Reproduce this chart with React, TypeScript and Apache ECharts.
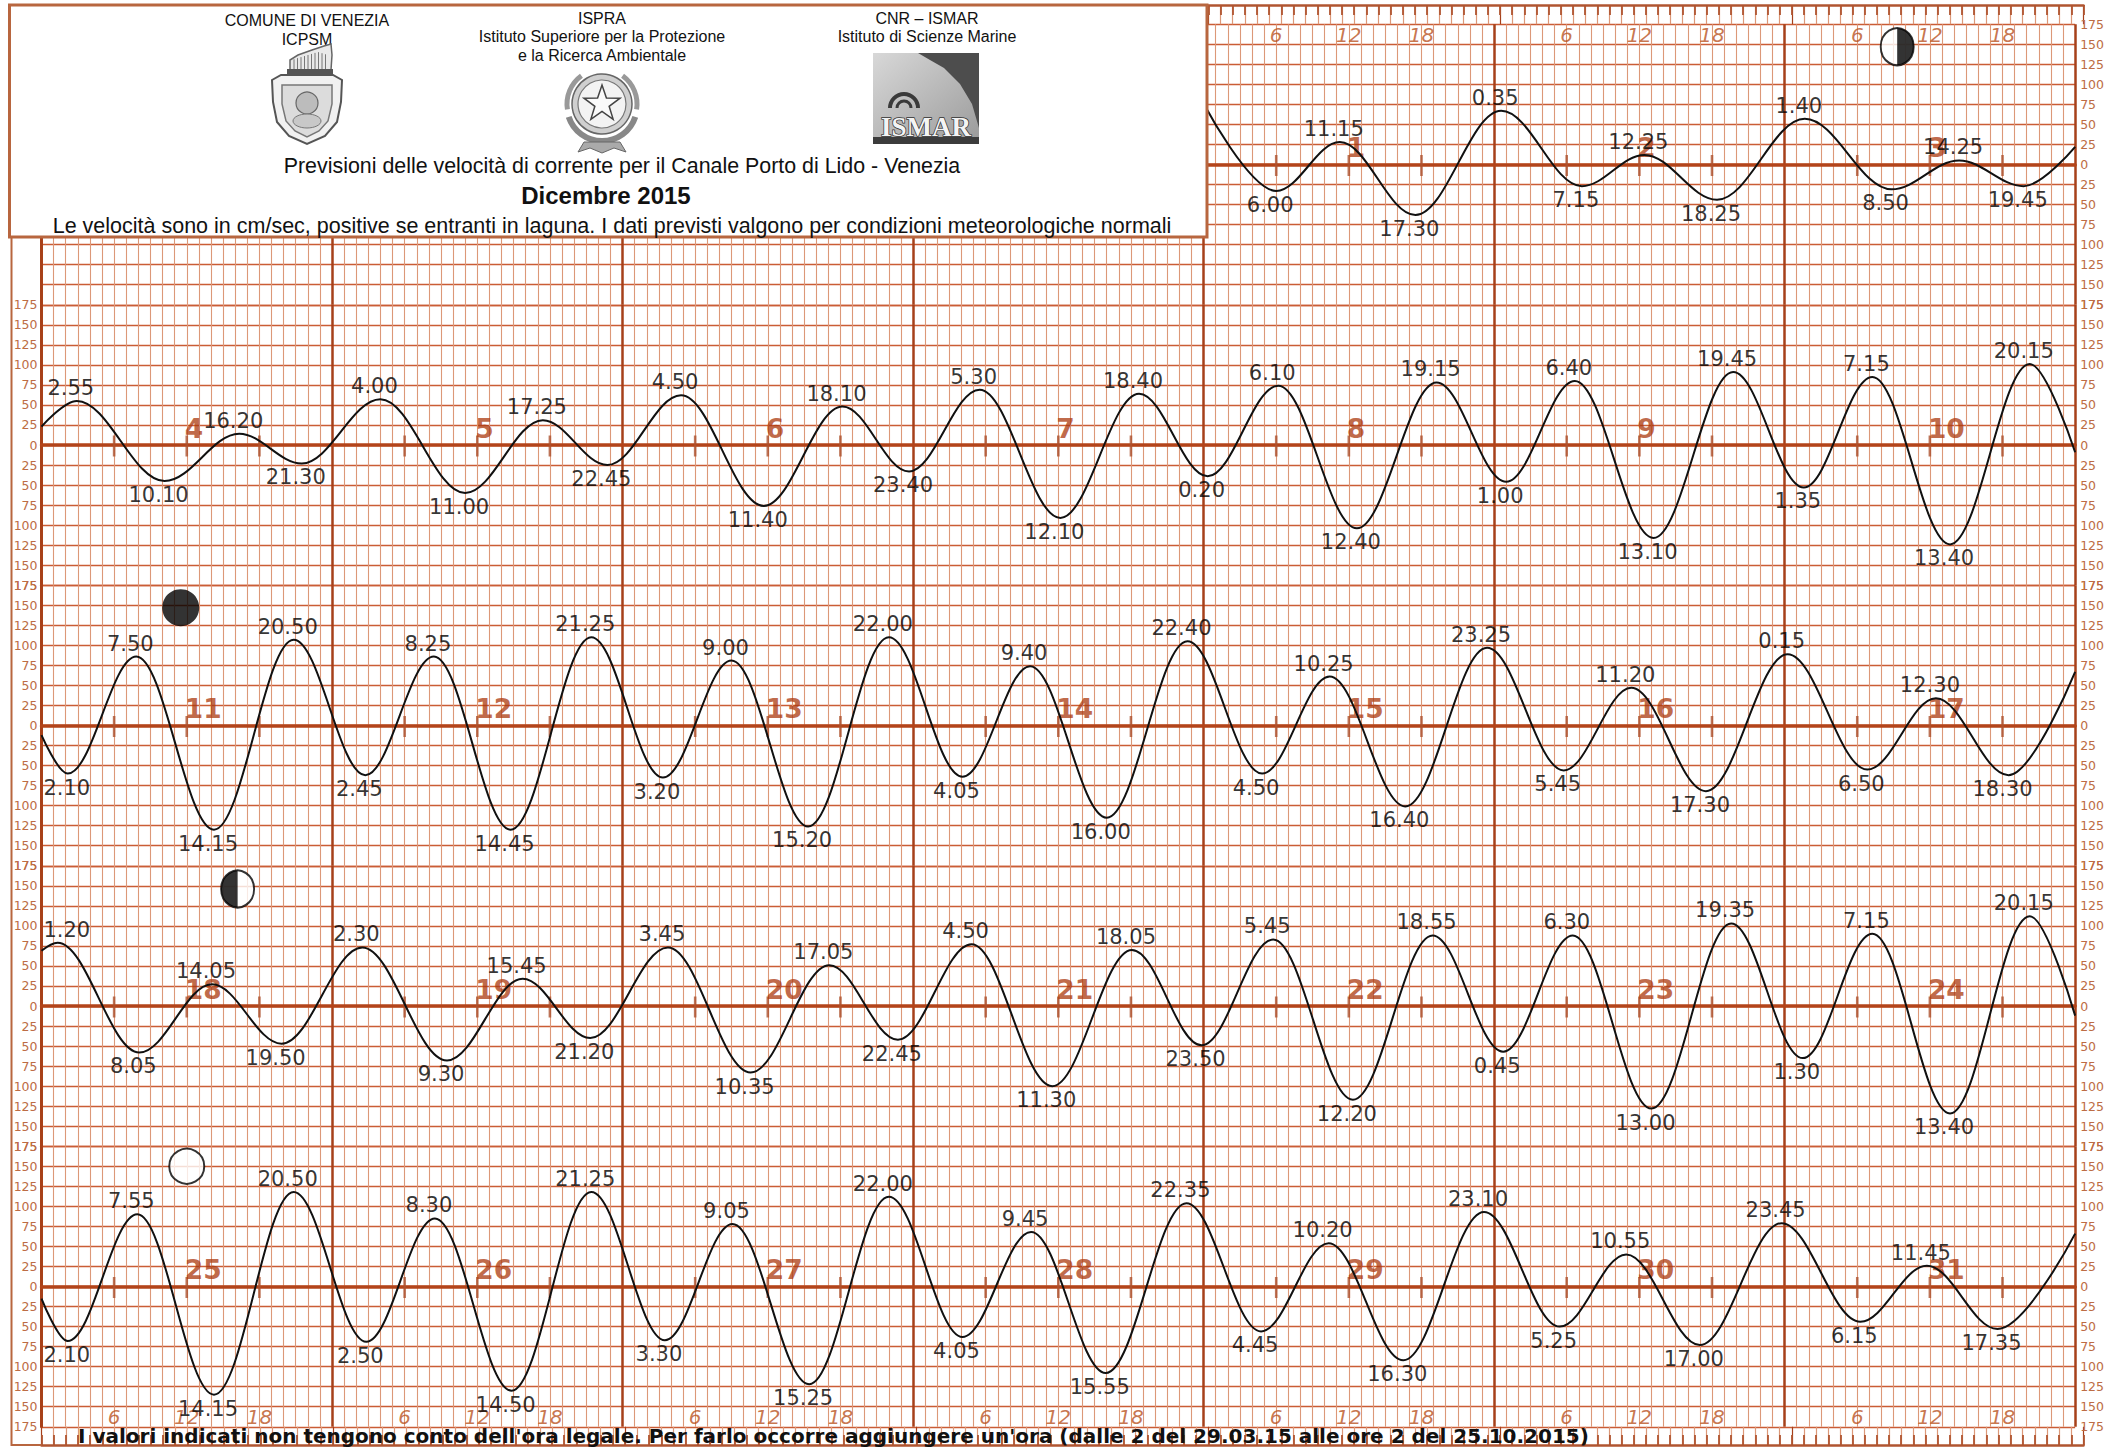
import React, { useEffect, useRef } from 'react';
import * as echarts from 'echarts';

// ---------------- data ----------------
// Each row of the sheet covers 7 day-columns; the first row only shows days 1-3 (last 3 columns).
const rowStartDays = [-3, 4, 11, 18, 25]; // day shown in column 0 of each row
const rowFirstDays = [1, 4, 11, 18, 25];
const rowLastDays = [3, 10, 17, 24, 31];
const rowStartValues = [76, 23, -12, 69, -15]; // speed at 0:00 of first day of the row (cm/s)
const rowEndValues = [22, -9, 67, -12, 66]; // speed at 24:00 of last day of the row (cm/s)
const hourMarks = [6, 12, 18];

type Ext = [number, string, number]; // [day, time "H.MM", speed cm/s]

const extremaDays1to3: Ext[] = [
  [1, '6.00', -33], [1, '11.15', 28], [1, '17.30', -63],
  [2, '0.35', 67], [2, '7.15', -27], [2, '12.25', 12], [2, '18.25', -44],
  [3, '1.40', 57], [3, '8.50', -31], [3, '14.25', 5], [3, '19.45', -27],
];
const extremaDays4to10: Ext[] = [
  [4, '2.55', 55], [4, '10.10', -45], [4, '16.20', 14], [4, '21.30', -23],
  [5, '4.00', 57], [5, '11.00', -60], [5, '17.25', 31], [5, '22.45', -25],
  [6, '4.50', 62], [6, '11.40', -76], [6, '18.10', 48], [6, '23.40', -33],
  [7, '5.30', 69], [7, '12.10', -91], [7, '18.40', 64],
  [8, '0.20', -39], [8, '6.10', 74], [8, '12.40', -104], [8, '19.15', 78],
  [9, '1.00', -46], [9, '6.40', 80], [9, '13.10', -116], [9, '19.45', 91],
  [10, '1.35', -53], [10, '7.15', 85], [10, '13.40', -124], [10, '20.15', 101],
];
const extremaDays11to17: Ext[] = [
  [11, '2.10', -60], [11, '7.50', 86], [11, '14.15', -130], [11, '20.50', 107],
  [12, '2.45', -62], [12, '8.25', 86], [12, '14.45', -130], [12, '21.25', 110],
  [13, '3.20', -65], [13, '9.00', 81], [13, '15.20', -126], [13, '22.00', 110],
  [14, '4.05', -64], [14, '9.40', 74], [14, '16.00', -115], [14, '22.40', 105],
  [15, '4.50', -60], [15, '10.25', 61], [15, '16.40', -101], [15, '23.25', 97],
  [16, '5.45', -56], [16, '11.20', 47], [16, '17.30', -82],
  [17, '0.15', 89], [17, '6.50', -55], [17, '12.30', 34], [17, '18.30', -62],
];
const extremaDays18to24: Ext[] = [
  [18, '1.20', 79], [18, '8.05', -58], [18, '14.05', 27], [18, '19.50', -47],
  [19, '2.30', 73], [19, '9.30', -68], [19, '15.45', 34], [19, '21.20', -40],
  [20, '3.45', 73], [20, '10.35', -83], [20, '17.05', 51], [20, '22.45', -42],
  [21, '4.50', 77], [21, '11.30', -100], [21, '18.05', 70], [21, '23.50', -49],
  [22, '5.45', 83], [22, '12.20', -117], [22, '18.55', 88],
  [23, '0.45', -57], [23, '6.30', 88], [23, '13.00', -128], [23, '19.35', 103],
  [24, '1.30', -65], [24, '7.15', 90], [24, '13.40', -134], [24, '20.15', 112],
];
const extremaDays25to31: Ext[] = [
  [25, '2.10', -68], [25, '7.55', 90], [25, '14.15', -135], [25, '20.50', 118],
  [26, '2.50', -69], [26, '8.30', 85], [26, '14.50', -130], [26, '21.25', 118],
  [27, '3.30', -67], [27, '9.05', 78], [27, '15.25', -122], [27, '22.00', 112],
  [28, '4.05', -63], [28, '9.45', 68], [28, '15.55', -108], [28, '22.35', 104],
  [29, '4.45', -56], [29, '10.20', 54], [29, '16.30', -92], [29, '23.10', 93],
  [30, '5.25', -50], [30, '10.55', 40], [30, '17.00', -73], [30, '23.45', 79],
  [31, '6.15', -44], [31, '11.45', 26], [31, '17.35', -53],
];
const rowExtrema = [extremaDays1to3, extremaDays4to10, extremaDays11to17, extremaDays18to24, extremaDays25to31];

// moon phases: day, hour, level (cm/s scale of that row), phase
const moonDays = [3, 11, 18, 25];
const moonHours = [9.3, 11.5, 16.2, 12.0];
const moonLevels = [147, 147, 146, 150];
const moonPhases = ['lastQuarter', 'new', 'firstQuarter', 'full'];

const topHourLevel = 162;
const bottomHourLevel = -163;

// ---------------- layout / style ----------------
const FONT = '"Liberation Sans", Arial, Helvetica, sans-serif';
const DEJAVU = '"DejaVu Sans", Verdana, sans-serif';
const PLOT_LEFT = 41.5;
const PLOT_WIDTH = 2042;
const HOUR_PX = PLOT_WIDTH / 168;
const ROW_ZERO0 = 164.5;
const ROW_STEP = 280.5;
const ROW_HEIGHT = 280.5;
const LABEL_SIZE = 21;

const C = {
  hour: '#dc9878',
  level: '#ca5c35',
  day: '#a6401a',
  zero: '#b3441a',
  tick: '#ad5230',
  axisLabel: '#bd6c44',
  dayNum: 'rgba(172, 58, 16, 0.95)',
  hourLabel: '#b9531f',
  ruler: '#b05530',
  frame: '#b8663f',
};

function parseTime(s: string): number {
  const [h, m] = s.split('.');
  return Number(h) + Number(m) / 60;
}
function rowOfDay(d: number): number {
  return d <= 3 ? 0 : Math.floor((d - 4) / 7) + 1;
}
// approximate text width in DejaVu Sans (digits 0.636em, period 0.318em)
function labelWidth(t: string): number {
  let w = 0;
  for (const ch of t) w += ch === '.' ? 0.318 : 0.636;
  return w * LABEL_SIZE;
}

function buildOption() {
  const grids: any[] = [];
  const xAxes: any[] = [];
  const yAxes: any[] = [];
  const series: any[] = [];

  for (let r = 0; r < 5; r++) {
    const zero = ROW_ZERO0 + r * ROW_STEP;
    grids.push({ left: PLOT_LEFT, top: zero - ROW_HEIGHT / 2, width: PLOT_WIDTH, height: ROW_HEIGHT });
    xAxes.push({
      gridIndex: r, type: 'value', min: 0, max: 168, interval: 24, z: 1,
      axisLine: { show: true, onZero: true, lineStyle: { color: C.zero, width: 3.5 } },
      axisTick: { show: false }, axisLabel: { show: false },
      splitLine: { show: true, lineStyle: { color: C.day, width: 2.5 } },
      minorTick: { show: false, splitNumber: 24 },
      minorSplitLine: { show: true, lineStyle: { color: C.hour, width: 1.1 } },
    });
    const labelCommon = {
      formatter: (v: number) => String(Math.abs(v)),
      color: C.axisLabel, fontSize: 12.5, fontFamily: DEJAVU,
    };
    yAxes.push({
      gridIndex: r, type: 'value', min: -175, max: 175, interval: 25, position: 'left', z: 0,
      axisLine: { show: true, onZero: false, lineStyle: { color: C.zero, width: 3 } },
      axisTick: { show: false },
      axisLabel: { show: r > 0, margin: 4, ...labelCommon },
      splitLine: { show: true, lineStyle: { color: C.level, width: 1.3 } },
    });
    yAxes.push({
      gridIndex: r, type: 'value', min: -175, max: 175, interval: 25, position: 'right', z: 0,
      axisLine: { show: false }, axisTick: { show: false },
      axisLabel: { show: true, margin: 5, ...labelCommon },
      splitLine: { show: false },
    });

    const start = rowStartDays[r];
    const exts = rowExtrema[r];
    const pts = exts.map(([d, t, v]) => [(d - start) * 24 + parseTime(t), v]);
    const startX = (rowFirstDays[r] - start) * 24;
    const endX = (rowLastDays[r] + 1 - start) * 24;

    // hour ticks on the zero line
    const tickData: number[][] = [];
    const dayLabelData: any[] = [];
    for (let d = rowFirstDays[r]; d <= rowLastDays[r]; d++) {
      hourMarks.forEach((h) => tickData.push([(d - start) * 24 + h, 0]));
      dayLabelData.push({ name: String(d), value: [(d - start) * 24 + 12, 0] });
    }
    series.push({
      type: 'scatter', xAxisIndex: r, yAxisIndex: r * 2, silent: true, z: 3,
      symbol: 'rect', symbolSize: [2.6, 21], symbolOffset: [0, 1],
      itemStyle: { color: C.tick }, data: tickData,
    });
    series.push({
      type: 'scatter', xAxisIndex: r, yAxisIndex: r * 2, silent: true, z: 3,
      symbolSize: 1, itemStyle: { color: 'rgba(0,0,0,0)' },
      label: {
        show: true, position: 'top', distance: 3, align: 'left', offset: [-2, 0],
        formatter: (p: any) => p.name, color: C.dayNum, fontSize: 26.5, fontWeight: 'bold', fontFamily: DEJAVU,
      },
      data: dayLabelData,
    });
    series.push({
      type: 'line', xAxisIndex: r, yAxisIndex: r * 2, silent: true, z: 5,
      smooth: 0.36, smoothMonotone: 'x', symbol: 'none',
      lineStyle: { color: '#111', width: 2 },
      data: [[startX, rowStartValues[r]], ...pts, [endX, rowEndValues[r]]],
    });
    series.push({
      type: 'scatter', xAxisIndex: r, yAxisIndex: r * 2, silent: true, z: 6,
      symbolSize: 1, itemStyle: { color: 'rgba(0,0,0,0)' },
      label: {
        show: true, formatter: (p: any) => p.name,
        color: '#000', fontSize: LABEL_SIZE, fontFamily: DEJAVU,
      },
      data: exts.map(([d, t, v], i) => {
        // keep the label right of the left axis (as on the printed sheet)
        const px = PLOT_LEFT + pts[i][0] * HOUR_PX;
        const half = labelWidth(t) / 2;
        const dx = Math.max(-6, PLOT_LEFT + 2 + half - px);
        return {
          name: t, value: pts[i],
          label: v >= 0
            ? { position: 'top', distance: 2, offset: [dx, 0] }
            : { position: 'bottom', distance: 3, offset: [dx, 0] },
        };
      }),
    });
  }

  // hour labels (top of first row, bottom of last row)
  const hourLabelStyle = {
    show: true, position: 'inside', formatter: (p: any) => p.name,
    color: C.hourLabel, fontSize: 20, fontStyle: 'italic', fontFamily: DEJAVU,
  };
  const topHours: any[] = [];
  for (let d = rowFirstDays[0]; d <= rowLastDays[0]; d++)
    hourMarks.forEach((h) => topHours.push({ name: String(h), value: [(d - rowStartDays[0]) * 24 + h, topHourLevel] }));
  const bottomHours: any[] = [];
  for (let d = rowFirstDays[4]; d <= rowLastDays[4]; d++)
    hourMarks.forEach((h) => bottomHours.push({ name: String(h), value: [(d - rowStartDays[4]) * 24 + h, bottomHourLevel] }));
  series.push({ type: 'scatter', xAxisIndex: 0, yAxisIndex: 0, silent: true, z: 4, symbolSize: 1,
    itemStyle: { color: 'rgba(0,0,0,0)' }, label: hourLabelStyle, data: topHours });
  series.push({ type: 'scatter', xAxisIndex: 4, yAxisIndex: 8, silent: true, z: 4, symbolSize: 1,
    itemStyle: { color: 'rgba(0,0,0,0)' }, label: hourLabelStyle, data: bottomHours });

  // moons
  moonDays.forEach((d, i) => {
    const r = rowOfDay(d);
    const pos = [(d - rowStartDays[r]) * 24 + moonHours[i], moonLevels[i]];
    const phase = moonPhases[i];
    const base = { type: 'scatter', xAxisIndex: r, yAxisIndex: r * 2, silent: true, z: 7 };
    if (phase === 'new') {
      series.push({ ...base, symbol: 'circle', symbolSize: 37, itemStyle: { color: '#000' }, data: [pos] });
    } else if (phase === 'full') {
      series.push({ ...base, symbol: 'circle', symbolSize: 35,
        itemStyle: { color: '#fff', borderColor: '#000', borderWidth: 2 }, data: [pos] });
    } else {
      series.push({ ...base, symbol: 'circle', symbolSize: [33, 37],
        itemStyle: { color: '#fff', borderColor: '#000', borderWidth: 2 }, data: [pos] });
      const right = phase === 'lastQuarter';
      series.push({ ...base, z: 8,
        symbol: right ? 'path://M0,0 A10,10 0 0 1 0,20 Z' : 'path://M10,0 A10,10 0 0 0 10,20 Z',
        symbolSize: [16.5, 37], symbolOffset: [right ? 8.25 : -8.25, 0],
        itemStyle: { color: '#000' }, data: [pos] });
    }
  });

  // rulers (top strip and bottom strip)
  const rulerAxis = (gi: number, position: string) => ({
    gridIndex: gi, type: 'value', min: 0, max: 168, interval: 1, position,
    axisLine: { show: true, onZero: false, lineStyle: { color: C.ruler, width: 2.5 } },
    axisTick: { show: true, inside: true, length: 10, lineStyle: { color: C.ruler, width: 1.8 } },
    axisLabel: { show: false },
    splitLine: { show: true, lineStyle: { color: [C.day].concat(Array(23).fill(C.hour)), width: 1.2 } },
  });
  grids.push({ left: PLOT_LEFT, top: 5, width: PLOT_WIDTH, height: ROW_ZERO0 - ROW_HEIGHT / 2 - 5 });
  xAxes.push(rulerAxis(5, 'top'));
  yAxes.push({ gridIndex: 5, type: 'value', min: 0, max: 1, show: false });
  const lastBottom = ROW_ZERO0 + 4 * ROW_STEP + ROW_HEIGHT / 2;
  grids.push({ left: PLOT_LEFT, top: lastBottom, width: PLOT_WIDTH, height: 1445 - lastBottom });
  xAxes.push(rulerAxis(6, 'bottom'));
  yAxes.push({ gridIndex: 6, type: 'value', min: 0, max: 1, show: false });

  // ---------------- header graphics ----------------
  const txt = (text: string, x: number, y: number, size: number, extra: any = {}) => ({
    type: 'text', z: 110, silent: true,
    style: {
      text, x, y, fill: '#111', fontSize: size, fontFamily: FONT,
      textAlign: 'center', align: 'center', textVerticalAlign: 'middle', verticalAlign: 'middle', ...extra,
    },
  });
  const star: number[][] = [];
  for (let i = 0; i < 10; i++) {
    const a = -Math.PI / 2 + (i * Math.PI) / 5;
    const rr = i % 2 === 0 ? 19 : 7.5;
    star.push([602 + rr * Math.cos(a), 104 + rr * Math.sin(a)]);
  }
  const hatStripes: any[] = [];
  for (let x = 294; x <= 328; x += 3.5)
    hatStripes.push({ type: 'line', z: 112, shape: { x1: x, y1: 70, x2: x, y2: 52 + Math.abs(x - 318) * 0.3 },
      style: { stroke: '#777', lineWidth: 1 } });

  const graphic: any[] = [
    { type: 'rect', z: 100, silent: true, shape: { x: 9.5, y: 5, width: 1197.5, height: 232 },
      style: { fill: '#fff', stroke: C.frame, lineWidth: 3 } },
    { type: 'polyline', z: 100, silent: true, shape: { points: [[11.5, 237], [11.5, 1445], [41.5, 1445]] },
      style: { stroke: C.frame, lineWidth: 2, fill: null } },
    txt('COMUNE DI VENEZIA', 307, 20, 16),
    txt('ICPSM', 307, 39, 16),
    txt('ISPRA', 602, 18, 16),
    txt('Istituto Superiore per la Protezione', 602, 36, 16),
    txt('e la Ricerca Ambientale', 602, 55, 16),
    txt('CNR – ISMAR', 927, 18, 16),
    txt('Istituto di Scienze Marine', 927, 36, 16),
    txt('Previsioni delle velocità di corrente per il Canale Porto di Lido - Venezia', 622, 166, 21.4),
    txt('Dicembre 2015', 606, 195, 24, { fontWeight: 'bold' }),
    txt('Le velocità sono in cm/sec, positive se entranti in laguna. I dati previsti valgono per condizioni meteorologiche normali', 612, 226, 21.5),
    // ICPSM shield
    { type: 'polygon', z: 111, shape: { points: [[290, 70], [290, 60], [298, 55], [312, 50], [324, 46], [331, 44], [332, 55], [331, 70]] },
      style: { fill: '#e9e9e9', stroke: '#666', lineWidth: 1.5 } },
    ...hatStripes,
    { type: 'rect', z: 112, shape: { x: 287, y: 69, width: 46, height: 5 }, style: { fill: '#555' } },
    { type: 'polygon', z: 111, shape: { points: [[272, 80], [281, 75], [333, 75], [342, 80], [341, 102], [337, 122], [325, 136], [307, 144], [289, 136], [277, 122], [273, 102]] },
      style: { fill: '#f1f1f1', stroke: '#555', lineWidth: 2 } },
    { type: 'polygon', z: 112, shape: { points: [[282, 85], [332, 85], [332, 104], [328, 121], [319, 131], [307, 137], [295, 131], [286, 121], [282, 104]] },
      style: { fill: '#dcdcdc', stroke: '#777', lineWidth: 1.5 } },
    { type: 'circle', z: 113, shape: { cx: 307, cy: 103, r: 11 }, style: { fill: '#bcbcbc', stroke: '#666', lineWidth: 1.2 } },
    { type: 'ellipse', z: 113, shape: { cx: 307, cy: 121, rx: 14, ry: 7 }, style: { fill: '#c8c8c8', stroke: '#777', lineWidth: 1 } },
    // ISPRA emblem
    { type: 'arc', z: 111, shape: { cx: 602, cy: 106, r: 35, startAngle: Math.PI * 0.1, endAngle: Math.PI * 0.9 },
      style: { stroke: '#888', lineWidth: 6, fill: null } },
    { type: 'arc', z: 111, shape: { cx: 602, cy: 104, r: 35, startAngle: Math.PI * 0.95, endAngle: Math.PI * 1.3 },
      style: { stroke: '#999', lineWidth: 5, fill: null } },
    { type: 'arc', z: 111, shape: { cx: 602, cy: 104, r: 35, startAngle: Math.PI * 1.7, endAngle: Math.PI * 2.05 },
      style: { stroke: '#999', lineWidth: 5, fill: null } },
    { type: 'circle', z: 112, shape: { cx: 602, cy: 104, r: 30 }, style: { fill: '#cfcfcf', stroke: '#666', lineWidth: 1.5 } },
    { type: 'circle', z: 113, shape: { cx: 602, cy: 104, r: 24 }, style: { fill: '#f3f3f3', stroke: '#777', lineWidth: 1.2 } },
    { type: 'polygon', z: 114, shape: { points: star }, style: { fill: '#fafafa', stroke: '#444', lineWidth: 1.5 } },
    { type: 'polygon', z: 113, shape: { points: [[584, 142], [620, 142], [626, 152], [614, 148], [602, 153], [590, 148], [578, 152]] },
      style: { fill: '#aaa', stroke: '#666', lineWidth: 1 } },
    // ISMAR logo
    { type: 'rect', z: 111, shape: { x: 873, y: 53, width: 106, height: 91 },
      style: { fill: new echarts.graphic.LinearGradient(0, 0, 1, 1, [{ offset: 0, color: '#d8d8d8' }, { offset: 1, color: '#9a9a9a' }]) } },
    { type: 'polygon', z: 112, shape: { points: [[918, 53], [979, 53], [979, 128], [972, 104], [960, 84], [944, 68], [930, 60]] },
      style: { fill: '#4d4d4d' } },
    { type: 'arc', z: 113, shape: { cx: 904, cy: 108, r: 14, startAngle: Math.PI, endAngle: Math.PI * 2 },
      style: { stroke: '#3a3a3a', lineWidth: 4, fill: null } },
    { type: 'arc', z: 113, shape: { cx: 904, cy: 108, r: 7, startAngle: Math.PI, endAngle: Math.PI * 2 },
      style: { stroke: '#3a3a3a', lineWidth: 3, fill: null } },
    { type: 'rect', z: 112, shape: { x: 873, y: 137, width: 106, height: 7 }, style: { fill: '#3c3c3c' } },
    { type: 'text', z: 114, style: { text: 'ISMAR', x: 926, y: 127, fill: '#f4f4f4', stroke: '#333', lineWidth: 1.5,
      fontSize: 27, fontWeight: 'bold', fontFamily: '"Liberation Serif", serif',
      textAlign: 'center', align: 'center', textVerticalAlign: 'middle', verticalAlign: 'middle' } },
    // footer
    { type: 'text', z: 120, silent: true, style: {
      text: "I valori indicati non tengono conto dell'ora legale. Per farlo occorre aggiungere un'ora (dalle 2 del 29.03.15 alle ore 2 del 25.10.2015)",
      x: 78, y: 1436, fill: '#111', fontSize: 20, fontWeight: 'bold', fontFamily: DEJAVU,
      textAlign: 'left', align: 'left', textVerticalAlign: 'middle', verticalAlign: 'middle' } },
  ];

  return {
    animation: false,
    backgroundColor: '#ffffff',
    grid: grids,
    xAxis: xAxes,
    yAxis: yAxes,
    series,
    graphic,
  };
}

export default function App() {
  const ref = useRef<HTMLDivElement>(null);
  useEffect(() => {
    document.body.style.margin = '0';
    if (!ref.current) return;
    const chart = echarts.init(ref.current, undefined, { renderer: 'svg' });
    chart.setOption(buildOption() as any);
    return () => chart.dispose();
  }, []);
  return (
    <div
      ref={ref}
      style={{ position: 'absolute', left: 0, top: 0, width: 2107, height: 1448, background: '#fff' }}
    />
  );
}
